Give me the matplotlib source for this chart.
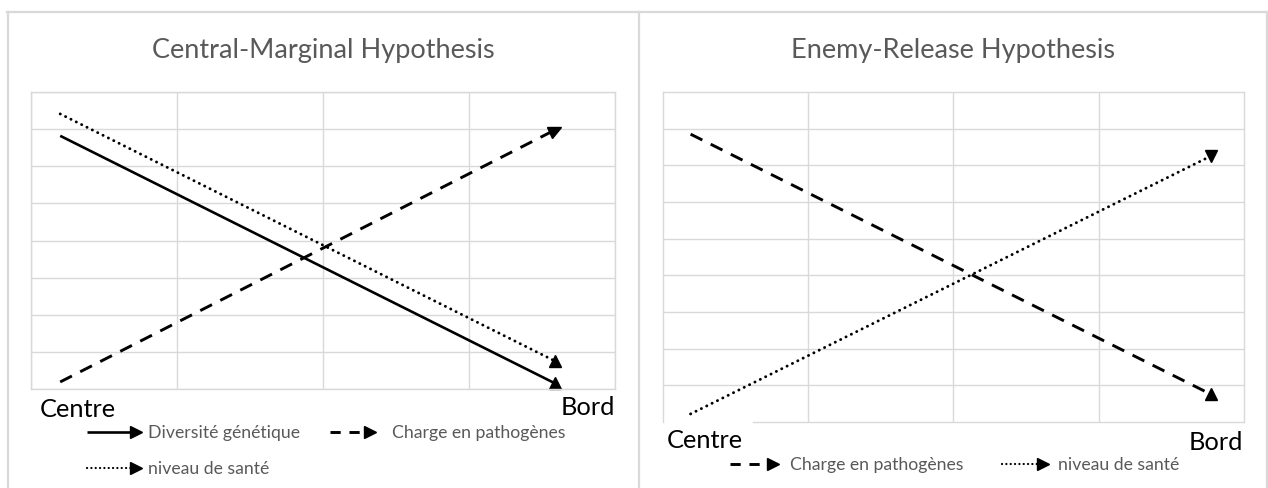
import matplotlib
matplotlib.use("Agg")
import matplotlib.pyplot as plt
from matplotlib.lines import Line2D
from matplotlib.markers import MarkerStyle
from matplotlib.transforms import Affine2D

# ---------------- data ----------------
cm_title = "Central-Marginal Hypothesis"
er_title = "Enemy-Release Hypothesis"
x_labels = ["Centre", "Bord"]

cm_x = [0.2, 3.59]
cm_diversite = [6.82, 0.15]
cm_charge = [0.19, 6.98]
cm_sante = [7.41, 0.75]

er_x = [0.19, 3.77]
er_charge = [7.85, 0.76]
er_sante = [0.22, 7.25]

lbl_diversite = "Diversité génétique"
lbl_charge = "Charge en pathogènes"
lbl_sante = "niveau de santé"

# ---------------- layout ----------------
W, H = 1268, 489
fig = plt.figure(figsize=(W / 100, H / 100), dpi=100)
fig.patch.set_facecolor("white")
FONT = "Lato"
GRID = "#d9d9d9"
TXT = "#595959"

def px(x, y):
    return x / W, 1 - y / H

def add_ax(x0, y0, x1, y1):
    return fig.add_axes([x0 / W, 1 - y1 / H, (x1 - x0) / W, (y1 - y0) / H])

solid = dict(color="black", lw=1.9, linestyle="-")
dashed = dict(color="black", lw=2.1, linestyle=(0, (4.5, 3.2)))
dotted = dict(color="black", lw=2.1, linestyle=(0, (0.05, 2.0)), dash_capstyle="round")
solid_leg = dict(color="black", lw=1.9, linestyle="-")
dashed_leg = dict(color="black", lw=2.1, linestyle=(0, (3.5, 3.0)))
dotted_leg = dict(color="black", lw=1.6, linestyle=(0, (0.05, 1.9)), dash_capstyle="round")

def style_ax(ax, nrows):
    ax.set_xlim(0, 4)
    ax.set_ylim(0, nrows)
    ax.set_xticks(range(5))
    ax.set_yticks(range(nrows + 1))
    ax.grid(True, color=GRID, lw=1.0)
    ax.tick_params(length=0, labelbottom=False, labelleft=False)
    for s in ax.spines.values():
        s.set_color(GRID)
        s.set_linewidth(1.0)
    ax.set_axisbelow(True)

def arrow_line(ax, xs, ys, st, marker):
    ax.plot(xs, ys, solid_capstyle="butt", **st)
    ax.plot(xs[-1:], ys[-1:], linestyle="none", marker=marker, color="black",
            markersize=9, clip_on=False)

up = MarkerStyle("^")
down = MarkerStyle("v")
upright = MarkerStyle("^", transform=Affine2D().rotate_deg(-63))

# left panel
axL = add_ax(31, 93, 615, 390)
style_ax(axL, 8)
arrow_line(axL, cm_x, cm_diversite, solid, up)
arrow_line(axL, cm_x, cm_charge, dashed, upright)
arrow_line(axL, cm_x, cm_sante, dotted, up)

# right panel
axR = add_ax(663, 93, 1244, 423)
style_ax(axR, 9)
axR.spines["bottom"].set_visible(False)
axR.axhline(0, xmin=(753 - 663) / 581, xmax=1, color=GRID, lw=1.0, clip_on=False)
axR.grid(False)
for xv in range(1, 4):
    axR.axvline(xv, color=GRID, lw=1.0, zorder=0)
for yv in range(1, 9):
    axR.axhline(yv, color=GRID, lw=1.0, zorder=0)
arrow_line(axR, er_x, er_charge, dashed, up)
arrow_line(axR, er_x, er_sante, dotted, down)

# outer frames
for xs, ys in [([7, 1267], [13, 13]), ([7.5, 7.5], [13, 489]), ([639, 639], [13, 489]),
               ([1267, 1267], [13, 489])]:
    fig.add_artist(Line2D([x / W for x in xs], [1 - y / H for y in ys],
                          color=GRID, lw=1.6, transform=fig.transFigure))

# titles
fig.text(*px(323, 51), cm_title, ha="center", va="center", fontsize=19.5,
         color=TXT, family=FONT)
fig.text(*px(953, 51), er_title, ha="center", va="center", fontsize=19.5,
         color=TXT, family=FONT)

# axis end labels
LS = 18.3
fig.text(*px(40, 410), x_labels[0], ha="left", va="center", fontsize=LS, color="black", family=FONT)
fig.text(*px(615, 408), x_labels[1], ha="right", va="center", fontsize=LS, color="black", family=FONT)
fig.text(*px(667, 441), x_labels[0], ha="left", va="center", fontsize=LS, color="black", family=FONT)
fig.text(*px(1243, 443), x_labels[1], ha="right", va="center", fontsize=LS, color="black", family=FONT)

# legends
def legend_item(x0, x1, y, st, label, tx):
    fig.add_artist(Line2D([x0 / W, x1 / W], [1 - y / H, 1 - y / H], transform=fig.transFigure,
                          solid_capstyle="butt", **st))
    fig.add_artist(Line2D([x1 / W], [1 - y / H], transform=fig.transFigure, marker=">",
                          color="black", markersize=9, linestyle="none"))
    fig.text(tx / W, 1 - y / H, label, ha="left", va="center", fontsize=12.7,
             color=TXT, family=FONT)

legend_item(87, 136, 433, solid_leg, lbl_diversite, 148)
legend_item(330, 370, 433, dashed_leg, lbl_charge, 392)
legend_item(87, 136, 469, dotted_leg, lbl_sante, 148)
legend_item(730, 773, 465, dashed_leg, lbl_charge, 790)
legend_item(1002, 1043, 465, dotted_leg, lbl_sante, 1058)

fig.savefig("out.png", dpi=100, facecolor="white")
